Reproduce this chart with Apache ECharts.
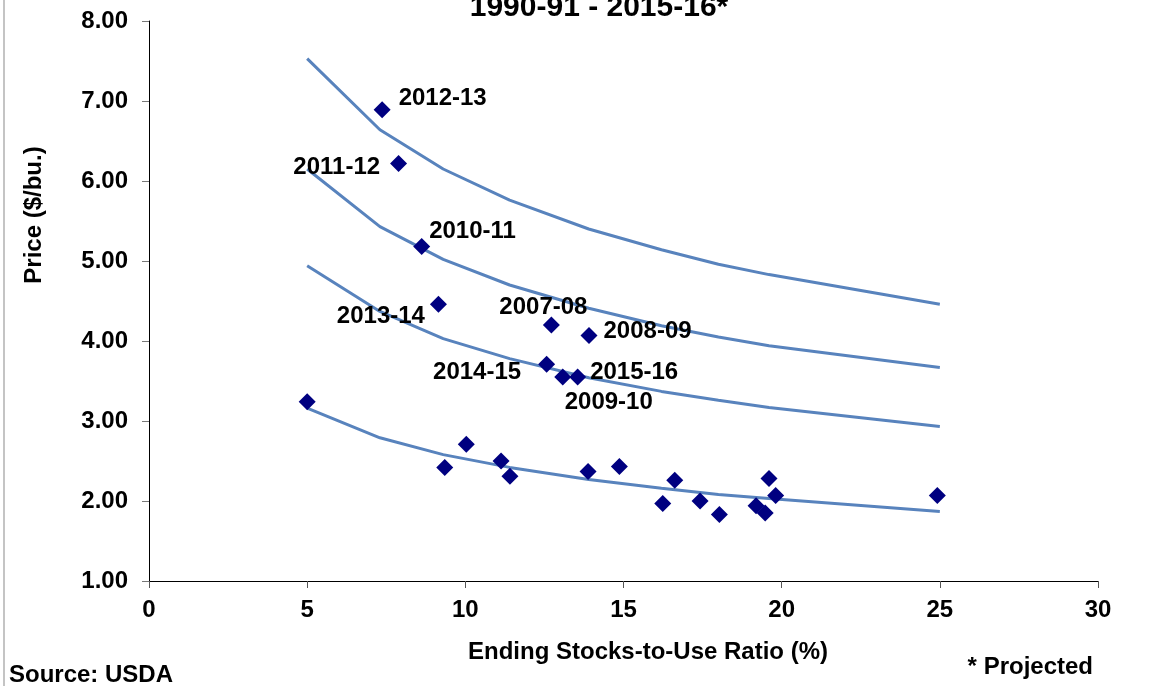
<!DOCTYPE html>
<html>
<head>
<meta charset="utf-8">
<script src="https://cdn.jsdelivr.net/npm/echarts@6/dist/echarts.min.js"></script>
<style>
  html, body { margin: 0; padding: 0; background: #fff; }
  #chart { width: 1151px; height: 686px; }
</style>
</head>
<body>
<div id="chart"></div>
<script>
// price curves (read at the bends of each line)
const curveX = [5, 7.3, 9.3, 11.4, 13.9, 16.2, 18, 19.6, 25];
const curve1 = [7.53, 6.64, 6.15, 5.76, 5.40, 5.14, 4.96, 4.83, 4.46];
const curve2 = [6.15, 5.43, 5.02, 4.70, 4.41, 4.19, 4.05, 3.94, 3.67];
const curve3 = [4.94, 4.37, 4.03, 3.78, 3.54, 3.37, 3.26, 3.17, 2.93];
const curve4 = [3.16, 2.79, 2.58, 2.42, 2.27, 2.16, 2.08, 2.03, 1.87];

// unlabeled years: stocks-to-use ratio, price
const plainRatio = [5.0, 10.03, 9.35, 11.13, 11.41, 13.88, 14.87, 16.24, 16.62, 17.42, 18.03, 19.19, 19.48, 19.6, 19.81, 24.92];
const plainPrice = [3.24, 2.71, 2.42, 2.50, 2.31, 2.37, 2.43, 1.97, 2.26, 2.00, 1.83, 1.94, 1.85, 2.28, 2.07, 2.07];

// labeled years
const yearNames = ['2012-13', '2011-12', '2010-11', '2013-14', '2007-08', '2008-09', '2014-15', '2015-16', '2009-10'];
const yearRatio = [7.37, 7.89, 8.62, 9.15, 12.72, 13.91, 12.57, 13.55, 13.08];
const yearPrice = [6.89, 6.22, 5.18, 4.46, 4.20, 4.07, 3.71, 3.55, 3.55];

const xTicks = [0, 5, 10, 15, 20, 25, 30];

// where each year label sits around its point
const labelPlace = {
  '2012-13': { position: 'right', offset: [3, -11] },
  '2011-12': { position: 'left', offset: [-5, 4] },
  '2010-11': { position: 'right', offset: [-6, -15] },
  '2013-14': { position: 'left', offset: [0, 12] },
  '2007-08': { position: 'top', offset: [-8, 8] },
  '2008-09': { position: 'right', offset: [1, -4] },
  '2014-15': { position: 'left', offset: [-12, 8] },
  '2015-16': { position: 'right', offset: [-1, -5] },
  '2009-10': { position: 'bottom', offset: [46, 0] }
};

const FONT = '"Liberation Sans", Arial, sans-serif';
const SIZE = 24;
const LINE = '#5883bd';
const DOT = '#000080';

const chart = echarts.init(document.getElementById('chart'));

const lineSeries = [curve1, curve2, curve3, curve4].map(ys => ({
  type: 'line',
  data: curveX.map((x, i) => [x, ys[i]]),
  showSymbol: false,
  symbol: 'none',
  smooth: false,
  lineStyle: { color: LINE, width: 3 },
  z: 2,
  silent: true
}));

const option = {
  animation: false,
  backgroundColor: '#fff',
  grid: { left: 149, top: 21, right: 53, bottom: 105 },
  xAxis: {
    type: 'value',
    min: 0, max: 30, interval: 5,
    splitLine: { show: false },
    axisLine: { lineStyle: { color: '#000', width: 1 } },
    axisTick: { show: true, length: 7, lineStyle: { color: '#555' } },
    axisLabel: {
      margin: 17,
      color: '#000', fontSize: SIZE, fontWeight: 'bold', fontFamily: FONT,
      formatter: v => xTicks.includes(v) ? String(v) : ''
    }
  },
  yAxis: {
    type: 'value',
    min: 1, max: 8, interval: 1,
    splitLine: { show: false },
    axisLine: { show: true, lineStyle: { color: '#000', width: 1 } },
    axisTick: { show: true, length: 7, lineStyle: { color: '#777' } },
    axisLabel: {
      margin: 21,
      color: '#000', fontSize: SIZE, fontWeight: 'bold', fontFamily: FONT,
      formatter: v => v.toFixed(2)
    }
  },
  series: [
    ...lineSeries,
    {
      type: 'scatter',
      symbol: 'diamond',
      symbolSize: 17,
      itemStyle: { color: DOT, opacity: 1 },
      z: 3,
      data: plainRatio.map((x, i) => [x, plainPrice[i]])
    },
    {
      type: 'scatter',
      symbol: 'diamond',
      symbolSize: 17,
      itemStyle: { color: DOT, opacity: 1 },
      z: 3,
      label: {
        show: true,
        color: '#000', fontSize: SIZE, fontWeight: 'bold', fontFamily: FONT,
        formatter: p => p.name
      },
      data: yearNames.map((n, i) => ({
        name: n,
        value: [yearRatio[i], yearPrice[i]],
        label: labelPlace[n]
      }))
    }
  ],
  graphic: [
    {
      type: 'line',
      shape: { x1: 4, y1: 0, x2: 4, y2: 686 },
      style: { stroke: '#c4c4c4', lineWidth: 2 }
    },
    {
      type: 'text', x: 599, y: 8,
      style: {
        text: '1990-91 - 2015-16*', align: 'center', verticalAlign: 'middle',
        fill: '#000', font: 'bold 30px ' + FONT
      }
    },
    {
      type: 'text', x: 34, y: 215, rotation: Math.PI / 2,
      style: {
        text: 'Price ($/bu.)', align: 'center', verticalAlign: 'middle',
        fill: '#000', font: 'bold 24px ' + FONT
      }
    },
    {
      type: 'text', x: 648, y: 652,
      style: {
        text: 'Ending Stocks-to-Use Ratio (%)', align: 'center', verticalAlign: 'middle',
        fill: '#000', font: 'bold 24px ' + FONT
      }
    },
    {
      type: 'text', x: 9, y: 675,
      style: {
        text: 'Source: USDA', align: 'left', verticalAlign: 'middle',
        fill: '#000', font: 'bold 24px ' + FONT
      }
    },
    {
      type: 'text', x: 1093, y: 667,
      style: {
        text: '* Projected', align: 'right', verticalAlign: 'middle',
        fill: '#000', font: 'bold 24px ' + FONT
      }
    }
  ]
};

chart.setOption(option);
</script>
</body>
</html>
